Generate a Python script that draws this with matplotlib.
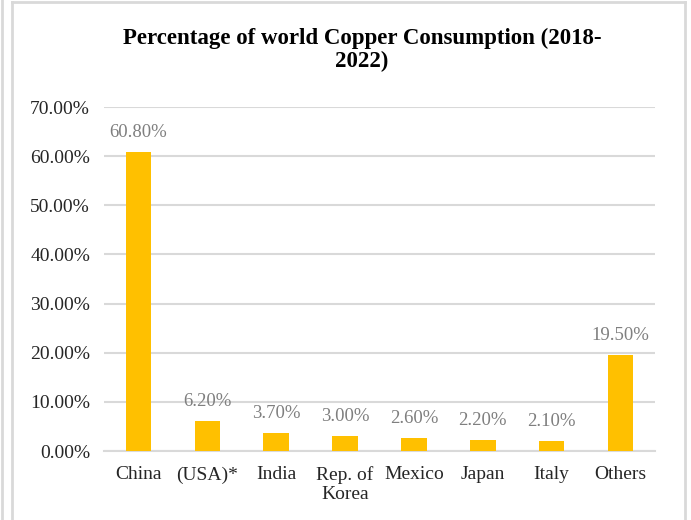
import matplotlib
matplotlib.use("Agg")
import matplotlib.pyplot as plt
from matplotlib.lines import Line2D
from matplotlib.ticker import FuncFormatter

categories = ["China", "(USA)*", "India", "Rep. of\nKorea", "Mexico", "Japan", "Italy", "Others"]
values = [0.608, 0.062, 0.037, 0.030, 0.026, 0.022, 0.021, 0.195]
yticks = [0.0, 0.1, 0.2, 0.3, 0.4, 0.5, 0.6, 0.7]

plt.rcParams['font.family'] = ['Liberation Serif', 'DejaVu Serif']

W, H = 691, 520
fig = plt.figure(figsize=(W / 100, H / 100), dpi=100)
ax = fig.add_axes([104 / W, 1 - 451 / H, (655 - 104) / W, (451 - 107) / H])

x = list(range(len(categories)))
bars = ax.bar(x, values, width=0.37, color="#FFC000", zorder=3)
for xi, v in zip(x, values):
    ax.text(xi, v + 0.022, f"{v*100:.2f}%", ha="center", va="bottom",
            fontsize=13.5, color="#7F7F7F")

ax.set_xlim(-0.5, len(categories) - 0.5)
ax.set_ylim(0, 0.7)
ax.set_yticks(yticks)
ax.yaxis.set_major_formatter(FuncFormatter(lambda v, p: f"{v*100:.2f}%"))
ax.set_xticks(x)
ax.set_xticklabels(categories, linespacing=1.15)
ax.tick_params(axis="both", length=0, labelsize=14, colors="#262626")
ax.tick_params(axis="x", pad=11)
ax.tick_params(axis="y", pad=10)
ax.grid(axis="y", color="#D9D9D9", linewidth=1.5, zorder=0)
for s in ["top", "right", "left"]:
    ax.spines[s].set_visible(False)
ax.spines["bottom"].set_color("#D9D9D9")
ax.spines["bottom"].set_linewidth(1.5)

fig.text(362 / W, 1 - 50 / H, "Percentage of world Copper Consumption (2018-\n2022)",
         ha="center", va="center", fontsize=16.5, fontweight="bold", linespacing=1.1)

# frame lines
lc = "#D9D9D9"
fig.add_artist(Line2D([2 / W, 2 / W], [0, 1], transform=fig.transFigure, color=lc, lw=2))
fig.add_artist(Line2D([12 / W, 12 / W], [0, 1 - 1.5 / H], transform=fig.transFigure, color=lc, lw=2))
fig.add_artist(Line2D([685 / W, 685 / W], [0, 1 - 1.5 / H], transform=fig.transFigure, color=lc, lw=2))
fig.add_artist(Line2D([12 / W, 685 / W], [1 - 1.5 / H, 1 - 1.5 / H], transform=fig.transFigure, color=lc, lw=2))

fig.savefig("out.png", dpi=100)
